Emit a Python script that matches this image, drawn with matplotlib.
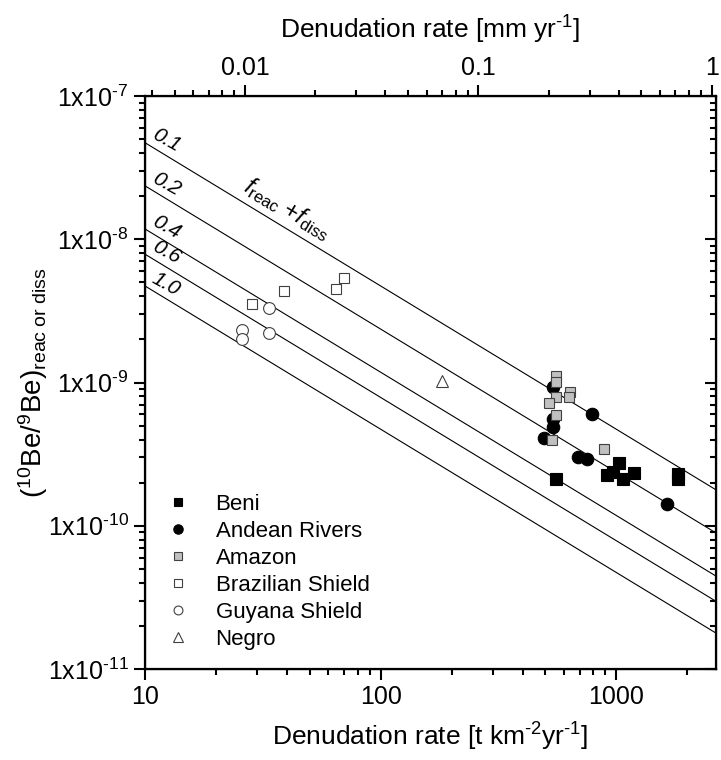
import matplotlib
matplotlib.use('Agg')
import matplotlib.pyplot as plt
import numpy as np
from matplotlib.ticker import LogLocator, FixedLocator, NullFormatter

plt.rcParams['font.family'] = ['Liberation Sans', 'DejaVu Sans']
plt.rcParams['mathtext.fontset'] = 'custom'
plt.rcParams['mathtext.rm'] = 'Liberation Sans'
plt.rcParams['mathtext.it'] = 'Liberation Sans:italic'
plt.rcParams['mathtext.bf'] = 'Liberation Sans:bold'

# data (denudation rate in t km-2 yr-1, 10Be/9Be ratio)
beni_x = [557, 1024, 911, 972, 1066, 1193, 1824, 1824]
beni_y = [2.12e-10, 2.73e-10, 2.26e-10, 2.38e-10, 2.12e-10, 2.32e-10, 2.30e-10, 2.11e-10]
andean_x = [540, 540, 540, 494, 790, 690, 750, 1648]
andean_y = [9.35e-10, 5.56e-10, 4.91e-10, 4.12e-10, 6.05e-10, 3.02e-10, 2.92e-10, 1.41e-10]
amazon_x = [554, 554, 554, 517, 639, 632, 554, 536, 885]
amazon_y = [1.11e-9, 1.01e-9, 7.88e-10, 7.16e-10, 8.63e-10, 7.96e-10, 5.90e-10, 3.95e-10, 3.42e-10]
brazil_x = [28.5, 38.8, 64.9, 70.1]
brazil_y = [3.51e-9, 4.33e-9, 4.50e-9, 5.34e-9]
guyana_x = [33.7, 33.7, 25.9, 25.9]
guyana_y = [3.33e-9, 2.22e-9, 2.31e-9, 2.01e-9]
negro_x = [183]
negro_y = [1.03e-9]

# model lines for f_reac + f_diss
f_values = [0.1, 0.2, 0.4, 0.6, 1.0]
f_labels = ['0.1', '0.2', '0.4', '0.6', '1.0']
line_const = 4.72e-8

xmin, xmax = 10, 2650
ymin, ymax = 1e-11, 1e-7
top_lim = (0.00373, 1.044)   # mm/yr

fig = plt.figure(figsize=(7.21, 7.6), dpi=100)
ax = fig.add_axes([145/721, 1-669/760, 571/721, 573/760])
ax.set_xscale('log')
ax.set_yscale('log')

xx = np.array([xmin, xmax], dtype=float)
for f, lab in zip(f_values, f_labels):
    ax.plot(xx, line_const/(f*xx), color='black', lw=0.8, zorder=1)
    ax.text(12.3, 1.27*line_const/(f*12.3), lab, fontsize=15, style='italic',
            rotation=-29, ha='center', va='center')
ax.text(40, 1.63e-8, r'$f_{\mathrm{reac}}$ +$f_{\mathrm{diss}}$', fontsize=17,
        rotation=-31, ha='center', va='center')

ms = 8
ax.plot(beni_x, beni_y, 's', ms=ms, mfc='black', mec='black', mew=0.8, ls='none', label='Beni')
ax.plot(andean_x, andean_y, 'o', ms=ms+1, mfc='black', mec='black', mew=0.8, ls='none', label='Andean Rivers')
ax.plot(amazon_x, amazon_y, 's', ms=ms-0.5, mfc='#c0c0c0', mec='#404040', mew=0.8, ls='none', label='Amazon')
ax.plot(brazil_x, brazil_y, 's', ms=ms-0.5, mfc='white', mec='#404040', mew=0.8, ls='none', label='Brazilian Shield')
ax.plot(guyana_x, guyana_y, 'o', ms=ms+0.5, mfc='white', mec='#404040', mew=0.8, ls='none', label='Guyana Shield')
ax.plot(negro_x, negro_y, '^', ms=ms+1, mfc='white', mec='#404040', mew=0.8, ls='none', label='Negro')

ax.set_xlim(xmin, xmax)
ax.set_ylim(ymin, ymax)

ax.xaxis.set_major_locator(FixedLocator([10, 100, 1000]))
ax.set_xticklabels(['10', '100', '1000'])
ax.xaxis.set_minor_locator(LogLocator(base=10, subs=np.arange(2, 10), numticks=20))
ax.xaxis.set_minor_formatter(NullFormatter())
yt = [1e-11, 1e-10, 1e-9, 1e-8, 1e-7]
ax.yaxis.set_major_locator(FixedLocator(yt))
ax.set_yticklabels([r'1x10$^{\text{-11}}$', r'1x10$^{\text{-10}}$', r'1x10$^{\text{-9}}$',
                    r'1x10$^{\text{-8}}$', r'1x10$^{\text{-7}}$'])
ax.yaxis.set_minor_locator(LogLocator(base=10, subs=np.arange(2, 10), numticks=20))
ax.yaxis.set_minor_formatter(NullFormatter())
ax.tick_params(which='major', direction='out', length=7.8, width=1.5, labelsize=18, pad=4)
ax.tick_params(which='minor', direction='out', length=4.2, width=1.5)
for s in ax.spines.values():
    s.set_linewidth(1.6)

ax.set_xlabel(r'Denudation rate [t km$^{\text{-2}}$yr$^{\text{-1}}$]', fontsize=19, labelpad=8)
ax.set_ylabel(r'($^{10}$Be/$^{9}$Be)$_{\mathrm{reac\ or\ diss}}$', fontsize=20)
ax.yaxis.set_label_coords(-0.166, 0.5)

# right axis: ticks pointing in, no labels
axr = ax.twinx()
axr.set_yscale('log')
axr.set_ylim(ymin, ymax)
axr.yaxis.set_major_locator(FixedLocator(yt))
axr.yaxis.set_minor_locator(LogLocator(base=10, subs=np.arange(2, 10), numticks=20))
axr.tick_params(which='major', direction='in', length=7.8, width=1.5, labelright=False)
axr.tick_params(which='minor', direction='in', length=4.2, width=1.5)

# top axis in mm/yr
axt = ax.twiny()
axt.set_xscale('log')
axt.set_xlim(*top_lim)
axt.xaxis.set_major_locator(FixedLocator([0.01, 0.1, 1]))
axt.set_xticklabels(['0.01', '0.1', '1'])
axt.xaxis.set_minor_locator(LogLocator(base=10, subs=np.arange(2, 10), numticks=20))
axt.xaxis.set_minor_formatter(NullFormatter())
axt.tick_params(which='major', direction='out', length=7.8, width=1.5, labelsize=18, pad=4)
axt.tick_params(which='minor', direction='out', length=4.2, width=1.5)
axt.set_xlabel(r'Denudation rate [mm yr$^{\text{-1}}$]', fontsize=19, labelpad=12)

ax.legend(loc='upper left', bbox_to_anchor=(0.038, 0.306), frameon=False, fontsize=16,
          handlelength=1.0, handletextpad=1.2, labelspacing=0.27, borderpad=0,
          borderaxespad=0, markerscale=0.75)

fig.savefig('out.png', dpi=100)
